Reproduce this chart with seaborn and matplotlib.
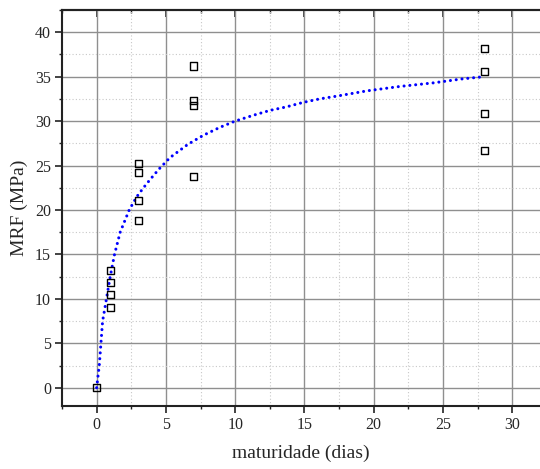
import numpy as np
import pandas as pd
import seaborn as sns
import matplotlib
matplotlib.use('Agg')
import matplotlib.pyplot as plt
from matplotlib.ticker import MultipleLocator

# measured points (maturity in days vs MRF)
dias = [0, 1, 1, 1, 1, 3, 3, 3, 3, 7, 7, 7, 7, 28, 28, 28, 28]
mrf = [0.0, 13.2, 11.85, 10.45, 9.05, 25.25, 24.2, 21.1, 18.85,
       36.2, 32.35, 31.8, 23.8, 38.2, 35.55, 30.9, 26.65]

# fitted curve
curva_t = [0, 0.19, 0.31, 0.43, 0.6, 0.74, 0.98, 1.29, 1.7, 2.35, 2.9, 3.38,
           3.9, 4.5, 5.3, 6.6, 7.7, 8.9, 10.0, 11.3, 12.5, 13.7, 14.9, 16.1,
           17.3, 19.5, 21.9, 24.3, 26.4, 28.0]
curva_y = [0, 2.5, 5.0, 7.5, 9.0, 10.3, 12.5, 15.0, 17.5, 20.0, 21.5, 22.5,
           23.5, 24.6, 25.9, 27.4, 28.4, 29.3, 30.0, 30.65, 31.2, 31.6, 32.1,
           32.5, 32.8, 33.4, 33.9, 34.3, 34.75, 35.0]

pontos = pd.DataFrame({'dias': dias, 'mrf': mrf})
curva = pd.DataFrame({'t': curva_t, 'y': curva_y})

sns.set_style('white')
plt.rcParams['font.family'] = ['Liberation Serif', 'DejaVu Serif']

fig = plt.figure(figsize=(5.4, 4.69), dpi=100)
ax = fig.add_axes([62 / 540, 63.5 / 469, 478 / 540, 395.5 / 469])

sns.lineplot(data=curva, x='t', y='y', sort=False, estimator=None, ax=ax,
             color='#0000ff', lw=2.2, linestyle=(0, (0.01, 1.9)),
             dash_capstyle='round', zorder=3)
sns.scatterplot(data=pontos, x='dias', y='mrf', ax=ax, marker='s', s=26,
                facecolor='none', edgecolor='black', linewidth=1.0, zorder=4)

ax.set_xlim(-2.5, 32)
ax.set_ylim(-2, 42.5)
ax.xaxis.set_major_locator(MultipleLocator(5))
ax.xaxis.set_minor_locator(MultipleLocator(2.5))
ax.yaxis.set_major_locator(MultipleLocator(5))
ax.yaxis.set_minor_locator(MultipleLocator(2.5))

ax.set_axisbelow(True)
ax.grid(which='major', color='#8f8f8f', lw=1.0)
ax.grid(which='minor', color='#c8c8c8', lw=0.8, linestyle=(0, (1, 2)))

ax.tick_params(which='major', direction='out', length=5, width=1.2,
               color='#222222', labelsize=11.5, pad=3, left=True, bottom=True)
ax.tick_params(which='minor', direction='out', length=2.5, width=1.0,
               color='#222222', left=True, bottom=True)

top = ax.secondary_xaxis('top')
top.xaxis.set_major_locator(MultipleLocator(5))
top.xaxis.set_minor_locator(MultipleLocator(2.5))
top.tick_params(which='major', direction='in', length=5, width=1.2, color='#222222', labeltop=False)
top.tick_params(which='minor', direction='in', length=2.5, width=1.0, color='#222222')
top.spines['top'].set_linewidth(1.5)
top.spines['top'].set_color('#222222')

for side in ['left', 'bottom', 'top']:
    ax.spines[side].set_linewidth(1.5)
    ax.spines[side].set_color('#222222')
ax.spines['right'].set_visible(False)

ax.set_xlabel('maturidade (dias)', fontsize=14, labelpad=9)
ax.set_ylabel('MRF (MPa)', fontsize=14, labelpad=5)

fig.savefig('out.png', dpi=100)
